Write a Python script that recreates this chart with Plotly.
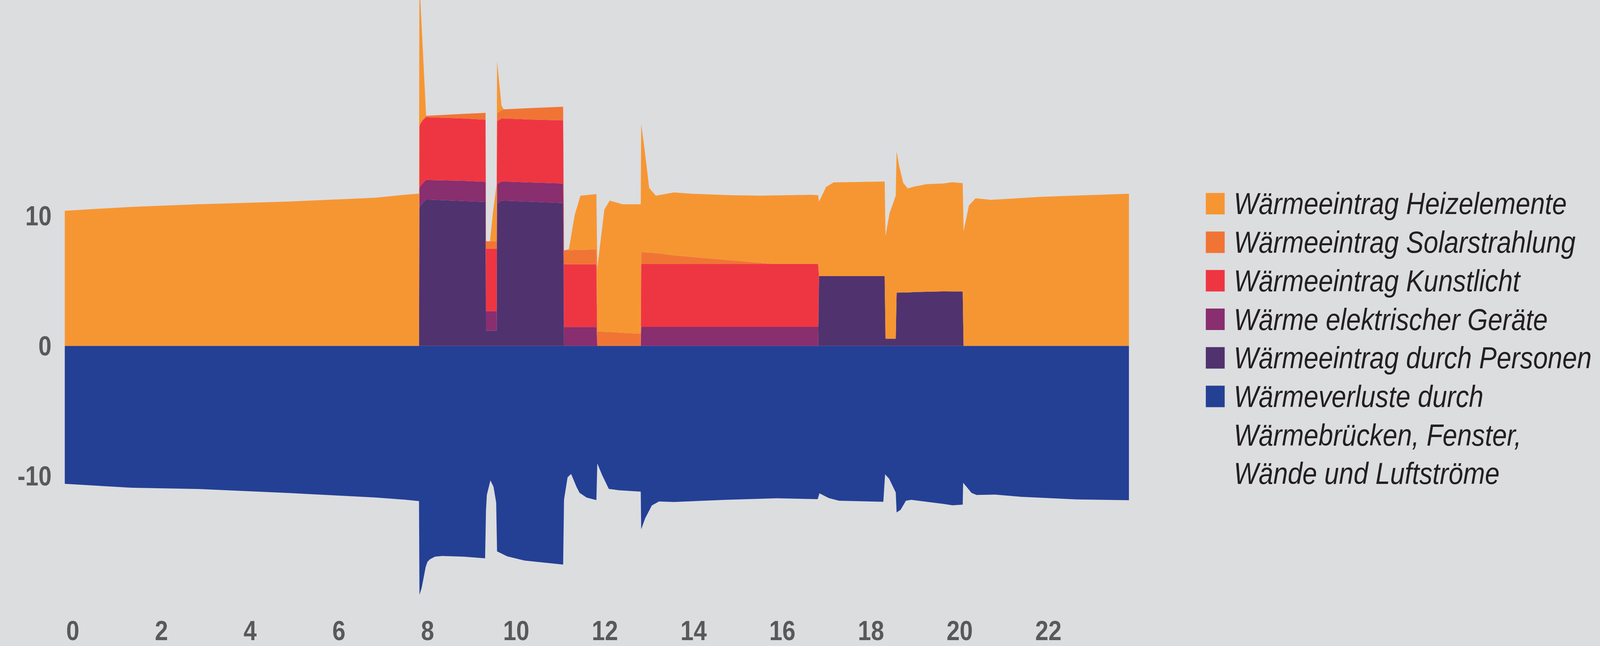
import plotly.graph_objects as go

# ---------------- data (hours, values) ----------------
hours = [0, 1.5, 3, 5, 7, 7.66, 7.99,
         8.0, 8.02, 8.07, 8.15, 9.0, 9.49,
         9.50, 9.59, 9.66, 9.74,
         9.75, 9.85, 9.9, 10.5, 11.24,
         11.26, 11.37, 11.50, 11.63, 11.99,
         12.01, 12.17, 12.29, 12.58, 12.99,
         13.0, 13.07, 13.18, 13.33, 13.74, 14.13, 15.0, 15.68, 16.0, 16.84, 16.99,
         17.01, 17.17, 17.34, 18.0, 18.49,
         18.51, 18.6, 18.74,
         18.76, 18.82, 18.91, 19.01, 19.17, 19.44, 19.82, 20.02, 20.25,
         20.27, 20.39, 20.54, 20.9, 22.01, 24.0]

personen = [0, 0, 0, 0, 0, 0, 0,
            10.6, 10.75, 11.0, 11.27, 11.15, 11.08,
            1.18, 1.18, 1.18, 1.18,
            10.95, 11.18, 11.18, 11.1, 11.0,
            0, 0, 0, 0, 0,
            0, 0, 0, 0, 0,
            0, 0, 0, 0, 0, 0, 0, 0, 0, 0, 0,
            5.37, 5.37, 5.37, 5.37, 5.37,
            0.56, 0.56, 0.56,
            4.1, 4.1, 4.1, 4.12, 4.15, 4.18, 4.2, 4.19, 4.19,
            0, 0, 0, 0, 0, 0]

geraete = [0, 0, 0, 0, 0, 0, 0,
           1.5, 1.55, 1.5, 1.5, 1.55, 1.55,
           1.5, 1.5, 1.5, 1.5,
           1.5, 1.47, 1.47, 1.48, 1.5,
           1.46, 1.46, 1.46, 1.46, 1.46,
           0, 0, 0, 0, 0,
           1.47, 1.47, 1.47, 1.47, 1.47, 1.47, 1.47, 1.47, 1.47, 1.47, 1.47,
           0, 0, 0, 0, 0,
           0, 0, 0,
           0, 0, 0, 0, 0, 0, 0, 0, 0,
           0, 0, 0, 0, 0, 0]

kunstlicht = [0, 0, 0, 0, 0, 0, 0,
              4.77, 4.8, 4.85, 4.83, 4.8, 4.77,
              4.81, 4.81, 4.81, 4.81,
              4.85, 4.85, 4.85, 4.84, 4.85,
              4.82, 4.82, 4.82, 4.82, 4.82,
              0, 0, 0, 0, 0,
              4.83, 4.83, 4.83, 4.83, 4.83, 4.83, 4.83, 4.83, 4.83, 4.83, 4.83,
              0, 0, 0, 0, 0,
              0, 0, 0,
              0, 0, 0, 0, 0, 0, 0, 0, 0,
              0, 0, 0, 0, 0, 0]

solar = [0, 0, 0, 0, 0, 0, 0,
         0, 0, 0.05, 0.1, 0.35, 0.53,
         0.56, 0.56, 0.56, 0.56,
         0.6, 0.65, 0.7, 0.88, 1.05,
         1.07, 1.09, 1.1, 1.12, 1.15,
         1.12, 1.1, 1.08, 1.02, 0.94,
         0.92, 0.9, 0.88, 0.85, 0.67, 0.55, 0.3, 0.1, 0, 0, 0,
         0, 0, 0, 0, 0,
         0, 0, 0,
         0, 0, 0, 0, 0, 0, 0, 0, 0,
         0, 0, 0, 0, 0, 0]

heizung = [10.4, 10.7, 10.9, 11.1, 11.4, 11.63, 11.72,
           13.1, 9.5, 5.8, 0, 0, 0,
           0, 0, 2.3, 4.4,
           4.0, 0.35, 0, 0, 0,
           0, 0.08, 2.68, 4.16, 4.25,
           4.88, 9.4, 10.1, 9.88, 9.96,
           9.83, 8.1, 4.97, 4.41, 4.84, 4.86, 5.0, 5.16, 5.28, 5.33, 5.3,
           5.73, 6.87, 7.21, 7.25, 7.28,
           7.91, 9.64, 11.0,
           10.86, 9.7, 8.44, 8.0, 8.12, 8.27, 8.3, 8.41, 8.33,
           8.83, 10.8, 11.36, 11.24, 11.47, 11.71]

loss_hours = [0, 1.5, 3, 5, 7, 7.66, 7.99,
              8.0, 8.05, 8.09, 8.14, 8.18, 8.24, 8.35, 8.51, 9.0, 9.48,
              9.50, 9.52, 9.6, 9.67, 9.73, 9.75, 9.98, 10.37, 11.24,
              11.26, 11.34, 11.42, 11.54, 11.61, 11.77, 11.99,
              12.01, 12.12, 12.27, 12.5, 12.99,
              13.0, 13.09, 13.24, 13.4, 13.74, 14.9, 16.06, 16.98,
              17.02, 17.23, 17.46, 18.46,
              18.5, 18.59, 18.74,
              18.76, 18.85, 18.97, 19.09, 19.82, 20.02, 20.25,
              20.26, 20.45, 20.56, 20.97, 21.57, 22.83, 24.0]

verluste = [-10.6, -10.9, -11.0, -11.3, -11.65, -11.82, -11.93,
            -19.14, -18.6, -17.9, -17.0, -16.6, -16.4, -16.2, -16.15, -16.2, -16.33,
            -12.64, -11.45, -10.34, -10.83, -12.04, -15.8, -16.18, -16.5, -16.81,
            -11.82, -10.1, -9.84, -10.83, -11.29, -11.66, -11.85,
            -9.03, -9.93, -10.99, -11.1, -11.2,
            -14.1, -13.25, -12.27, -11.96, -12.0, -11.83, -11.71, -11.78,
            -11.33, -11.7, -11.9, -11.98,
            -9.87, -10.2, -11.26,
            -12.8, -12.6, -11.9, -11.83, -12.15, -12.25, -12.2,
            -10.52, -11.3, -11.46, -11.43, -11.6, -11.8, -11.86]

legend_labels = ["Wärmeeintrag Heizelemente",
                 "Wärmeeintrag Solarstrahlung",
                 "Wärmeeintrag Kunstlicht",
                 "Wärme elektrischer Geräte",
                 "Wärmeeintrag durch Personen",
                 "Wärmeverluste durch"]
legend_extra = ["Wärmebrücken, Fenster,", "Wände und Luftströme"]

x_ticks = [0, 2, 4, 6, 8, 10, 12, 14, 16, 18, 20, 22]
y_ticks = [-10, 0, 10]
y_tick_text = ["-10", "0", "10"]

# ---------------- styling ----------------
BG = "#dcdddf"
C_HEIZ = "#f69633"
C_SOLAR = "#f07535"
C_LICHT = "#ee3642"
C_GERAET = "#892e6e"
C_PERS = "#50326f"
C_LOSS = "#244095"
TICK_COL = "#58595b"
TXT_COL = "#231f20"

W, H = 4749, 1654
ML, MR, MT, MB = 192, 4749 - 3351, 0, 94
PW = W - ML - MR
PH = H - MT - MB

fig = go.Figure()

stack = [(personen, C_PERS, legend_labels[4]),
         (geraete, C_GERAET, legend_labels[3]),
         (kunstlicht, C_LICHT, legend_labels[2]),
         (solar, C_SOLAR, legend_labels[1]),
         (heizung, C_HEIZ, legend_labels[0])]
for vals, col, name in stack:
    fig.add_trace(go.Scatter(x=hours, y=vals, name=name, stackgroup="pos",
                             mode="lines", line=dict(width=0, color=col),
                             fillcolor=col, showlegend=False, hoverinfo="skip"))

fig.add_trace(go.Scatter(x=loss_hours, y=verluste, name=legend_labels[5],
                         mode="lines", fill="tozeroy", line=dict(width=0, color=C_LOSS),
                         fillcolor=C_LOSS, showlegend=False, hoverinfo="skip"))

# ---------------- legend with large square swatches ----------------
legend_cols = [C_HEIZ, C_SOLAR, C_LICHT, C_GERAET, C_PERS, C_LOSS]


def px_x(p):
    return (p - ML) / PW


def px_y(p):
    return (MT + PH - p) / PH


row0, row_step = 531, 100.5
legend_font = dict(family="Liberation Sans, Arial", size=78, color=TXT_COL)
for i, (lab, col) in enumerate(zip(legend_labels, legend_cols)):
    cy = row0 + row_step * i
    fig.add_shape(type="rect", xref="paper", yref="paper",
                  x0=px_x(3579), x1=px_x(3635), y0=px_y(cy + 28), y1=px_y(cy - 28),
                  fillcolor=col, line=dict(width=0))
    fig.add_annotation(xref="paper", yref="paper", x=px_x(3660), y=px_y(cy),
                       xanchor="left", yanchor="middle", showarrow=False,
                       text="<i>" + lab + "</i>", font=legend_font)
for j, lab in enumerate(legend_extra):
    cy = row0 + row_step * (len(legend_labels) + j)
    fig.add_annotation(xref="paper", yref="paper", x=px_x(3660), y=px_y(cy),
                       xanchor="left", yanchor="middle", showarrow=False,
                       text="<i>" + lab + "</i>", font=legend_font)

tick_font = dict(family="Liberation Sans, Arial", size=70, color=TICK_COL, weight="bold")

fig.update_layout(
    width=W, height=H,
    margin=dict(l=ML, r=MR, t=MT, b=MB, pad=0),
    paper_bgcolor=BG, plot_bgcolor=BG,
    showlegend=False,
    xaxis=dict(range=[0, 24], tickvals=x_ticks, ticktext=[str(v) for v in x_ticks],
               showgrid=False, zeroline=False, showline=False, ticks="",
               tickfont=tick_font, ticklabelshift=24, ticklabelstandoff=36,
               fixedrange=True),
    yaxis=dict(range=[-19.41, 26.61], tickvals=y_ticks, ticktext=y_tick_text,
               showgrid=False, zeroline=False, showline=False, ticks="",
               tickfont=tick_font, ticklabelstandoff=38, fixedrange=True),
)

# fit the fixed-size figure exactly into the browser viewport
fit_js = """
var gd = document.getElementById('{plot_id}');
var de = document.documentElement, bd = document.body;
de.style.margin = '0'; bd.style.margin = '0';
de.style.overflow = 'hidden'; bd.style.overflow = 'hidden';
de.style.background = '#dcdddf'; bd.style.background = '#dcdddf';
var vw = window.innerWidth, vh = window.innerHeight;
var sx = vw / 4749, sy = vh / 1654;
var wrap = gd.parentElement;
wrap.style.width = vw + 'px'; wrap.style.height = vh + 'px'; wrap.style.overflow = 'hidden';
gd.style.transformOrigin = '0 0';
gd.style.transform = 'scale(' + sx + ',' + sy + ')';
"""

fig.write_html("out.html", post_script=fit_js, config={"displayModeBar": False})
